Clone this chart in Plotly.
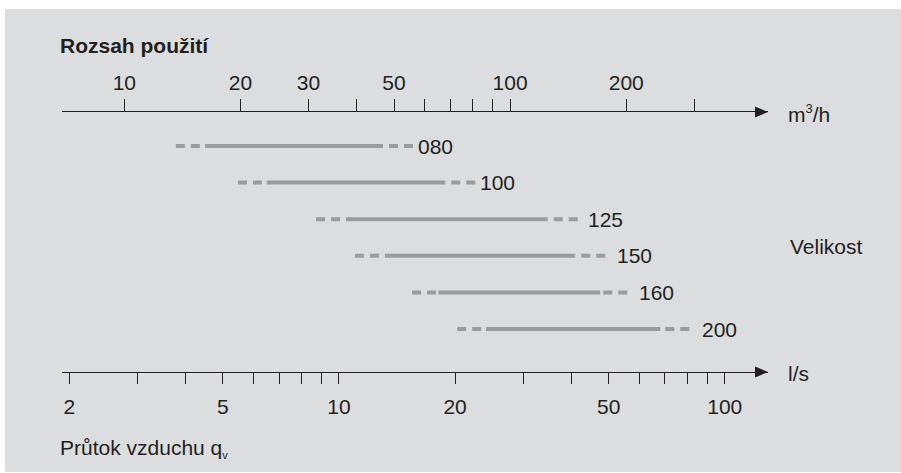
import math
import plotly.graph_objects as go

# ---------------- data ----------------
sizes = ["080", "100", "125", "150", "160", "200"]
# air flow range per size, m3/h
q_min = [13.6, 19.7, 31.4, 39.6, 55.7, 72.9]       # start of dashed part
q_opt_lo = [16.2, 23.4, 38.0, 47.7, 65.1, 86.6]    # start of solid part
q_opt_hi = [46.8, 67.8, 123.3, 146.6, 171.2, 245.0]  # end of solid part
q_max = [56.0, 81.2, 149.7, 176.4, 201.2, 291.3]     # end of dashed part

m3h_tickvals = [10, 20, 30, 40, 50, 60, 70, 80, 90, 100, 200, 300]
m3h_ticktext = ["10", "20", "30", "", "50", "", "", "", "", "100", "200", ""]
ls_tickvals = [2, 3, 4, 5, 6, 7, 8, 9, 10, 20, 30, 40, 50, 60, 70, 80, 90, 100]
ls_ticktext = ["2", "", "", "5", "", "", "", "", "10", "20", "", "", "50", "", "", "", "", "100"]
M3H_PER_LS = 3.6

# ---------------- style ----------------
W, H = 901, 473
ML, MR, MT, MB = 62, 133, 112, 101
PW, PH = W - ML - MR, H - MT - MB
FONT = "Liberation Sans, Arial, sans-serif"
TXT = "#231f20"
BAR = "#9a9b9d"
BG = "#dcdddf"
label_gap = [5, 5, 10, 12, 12, 13]

ls_range = [0.2821, 2.1121]
m3h_range = [r + math.log10(M3H_PER_LS) for r in ls_range]


def px(x, y):
    return (x - ML) / PW, (H - MB - y) / PH


fig = go.Figure()

for i, s in enumerate(sizes):
    # left dashed
    fig.add_trace(go.Scatter(x=[q_min[i], q_opt_lo[i]], y=[i, i], xaxis="x2", yaxis="y",
                             mode="lines", line=dict(color=BAR, width=4, dash="9px,6px"),
                             hoverinfo="skip", showlegend=False))
    # solid
    fig.add_trace(go.Scatter(x=[q_opt_lo[i], q_opt_hi[i]], y=[i, i], xaxis="x2", yaxis="y",
                             mode="lines", line=dict(color=BAR, width=4),
                             hoverinfo="skip", showlegend=False))
    # right dashed (drawn from the far end so the pattern starts there)
    fig.add_trace(go.Scatter(x=[q_max[i], q_opt_hi[i]], y=[i, i], xaxis="x2", yaxis="y",
                             mode="lines", line=dict(color=BAR, width=4, dash="9px,6px"),
                             hoverinfo="skip", showlegend=False))
    fig.add_annotation(x=math.log10(q_max[i]), y=i, xref="x2", yref="y", text=s,
                       showarrow=False, xanchor="left", yanchor="middle",
                       xshift=label_gap[i] - 2, font=dict(size=21, color=TXT, family=FONT))

# invisible trace to anchor the l/s axis
fig.add_trace(go.Scatter(x=[ls_tickvals[0]], y=[0], xaxis="x", yaxis="y", mode="markers",
                         marker=dict(opacity=0), hoverinfo="skip", showlegend=False))

axis_common = dict(type="log", showgrid=False, zeroline=False, showline=True,
                   linecolor=TXT, linewidth=1.3, ticks="outside", tickcolor=TXT,
                   tickwidth=1, tickangle=0, tickfont=dict(size=21, color=TXT, family=FONT),
                   fixedrange=True)

fig.update_layout(
    width=W, height=H,
    margin=dict(l=ML, r=MR, t=MT, b=MB, pad=0),
    paper_bgcolor="white", plot_bgcolor="rgba(0,0,0,0)",
    font=dict(family=FONT, color=TXT, size=21),
    xaxis=dict(range=ls_range, tickvals=ls_tickvals, ticktext=ls_ticktext,
               ticklen=11, ticklabelstandoff=5, side="bottom", anchor="y", **axis_common),
    xaxis2=dict(range=m3h_range, tickvals=m3h_tickvals, ticktext=m3h_ticktext,
                ticklen=12, side="top", overlaying="x", anchor="y", **axis_common),
    yaxis=dict(range=[6.175, -0.929], visible=False, fixedrange=True),
)

# background panel
x0, y0 = px(5, 472)
x1, y1 = px(901, 9)
fig.add_shape(type="rect", xref="paper", yref="paper", x0=x0, y0=y0, x1=x1, y1=y1,
              fillcolor=BG, line=dict(width=0), layer="below")

# arrow heads on both axes
for ya in (1, 0):
    fig.add_shape(type="path", xref="paper", yref="paper", xsizemode="pixel",
                  ysizemode="pixel", xanchor=1, yanchor=ya,
                  path="M-13,-5.5 L0,0 L-13,5.5 Z", fillcolor=TXT, line=dict(width=0))


def ann(text, x, y, size=21, bold=False):
    xp, yp = px(x, y)
    fig.add_annotation(x=xp, y=yp, xref="paper", yref="paper", text=f"<b>{text}</b>" if bold else text,
                       showarrow=False, xanchor="left", yanchor="middle",
                       font=dict(size=size, color=TXT, family=FONT))


ann("Rozsah použití", 58, 45, size=21, bold=True)
ann("Průtok vzduchu q<sub><span style='font-size:11px'>v</span></sub>", 58, 448)
ann("m<sup><span style='font-size:13px'>3</span></sup>/h", 786, 113)
ann("l/s", 786, 373)
ann("Velikost", 788, 247)

fig.write_html("out.html", config={"displayModeBar": False},
               post_script="document.body.style.margin='0';")
